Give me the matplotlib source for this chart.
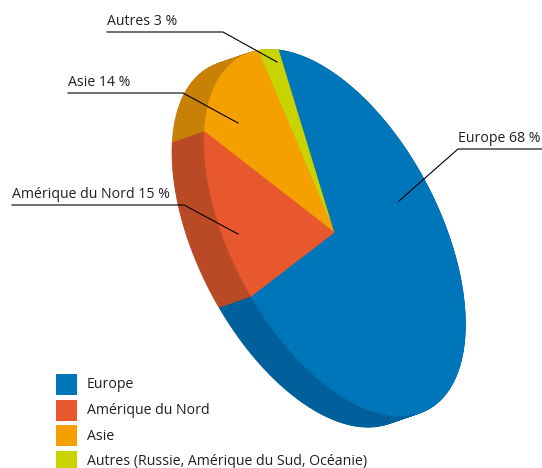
import numpy as np
import matplotlib.pyplot as plt
from matplotlib.patches import Polygon, Rectangle

# data
categories = ['Autres', 'Asie', 'Amérique du Nord', 'Europe']
shares = [3, 14, 15, 68]
legend_names = ['Europe', 'Amérique du Nord', 'Asie', 'Autres (Russie, Amérique du Sud, Océanie)']
top_colors = ['#C9D300', '#F4A000', '#E8582E', '#0076BA']
side_colors = ['#A3AB00', '#C78107', '#BA4A26', '#00609C']

# label text, leader elbow and leader end inside the slice (pixels)
label_text = ['Autres 3 %', 'Asie 14 %', 'Amérique du Nord 15 %', 'Europe 68 %']
label_start = [(107, 32), (68, 93), (12, 205), (542, 149)]
label_elbow = [(223, 32), (183, 93), (184, 205), (458, 149)]
label_end = [(277, 62), (238, 123), (238, 234), (399, 201)]

# tilted pie geometry (pixels, y down)
cx, cy = 334.7, 232.8
a, b = 199.6, 104.0
u = np.array([0.464, 0.886])
v = np.array([0.886, -0.464])
start = np.deg2rad(160)
depth = np.array([-32, 11])

FONT = 'Open Sans'
TXT = '#231F20'


def point(r, t):
    return np.array([cx, cy]) + r * (a * np.cos(t)[:, None] * u + b * np.sin(t)[:, None] * v)


def wedges():
    out = []
    t0 = start
    for s in shares:
        t1 = t0 + 2 * np.pi * s / 100
        t = np.linspace(t0, t1, max(int(s * 4), 8))
        pts = np.vstack([[cx, cy], point(1, t)])
        out.append(pts)
        t0 = t1
    return out


fig = plt.figure(figsize=(5.42, 4.68), dpi=100)
ax = fig.add_axes([0, 0, 1, 1])
ax.set_xlim(0, 542)
ax.set_ylim(468, 0)
ax.axis('off')

shapes = wedges()

# side of the pie: stacked shifted copies
for k in np.linspace(1, 0, 45):
    for pts, col in zip(shapes, side_colors):
        ax.add_patch(Polygon(pts + k * depth, closed=True, fc=col, ec=col, lw=0.6))

# top face
for pts, col in zip(shapes, top_colors):
    ax.add_patch(Polygon(pts, closed=True, fc=col, ec=col, lw=0.4))

# labels with leader lines
for txt, p0, p1, p2 in zip(label_text, label_start, label_elbow, label_end):
    ax.plot([p0[0], p1[0], p2[0]], [p0[1], p1[1], p2[1]], color='black', lw=0.8)
    x = min(p0[0], p1[0])
    ax.text(x, p0[1] - 7, txt, fontsize=10.2, family=FONT, color=TXT, va='baseline', ha='left')

# legend
for i, name in enumerate(legend_names):
    col = top_colors[::-1][i]
    y = 374 + i * 25.5
    ax.add_patch(Rectangle((56, y), 21, 21, fc=col, ec='none'))
    ax.text(87, y + 11, name, fontsize=10.2, family=FONT, color=TXT, va='center', ha='left')

fig.savefig('out.png', dpi=100)
